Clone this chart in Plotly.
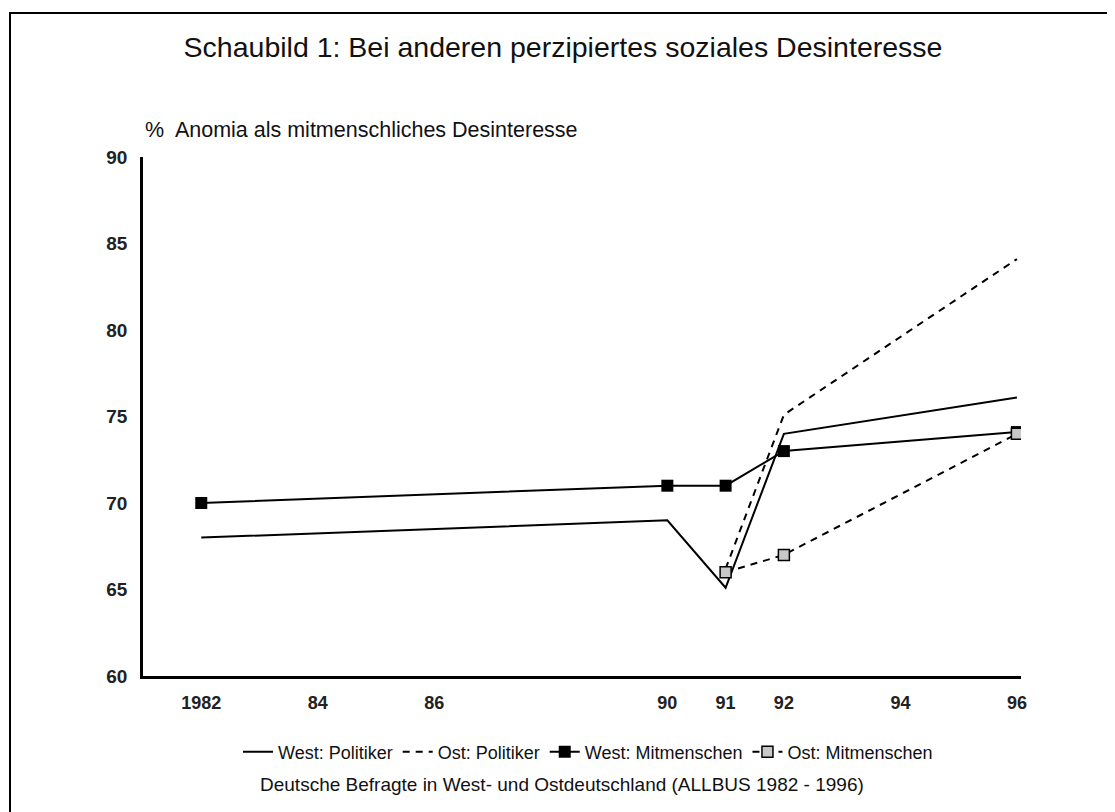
import plotly.graph_objects as go

years = [1982, 1990, 1991, 1992, 1996]
west_politiker = [68.0, 69.0, 65.1, 74.0, 76.1]
west_mitmenschen = [70.0, 71.0, 71.0, 73.0, 74.1]
ost_years = [1991, 1992, 1996]
ost_politiker = [66.2, 75.1, 84.1]
ost_mitmenschen = [66.0, 67.0, 74.0]

x_ticks = [1982, 1984, 1986, 1990, 1991, 1992, 1994, 1996]
x_labels = ["1982", "84", "86", "90", "91", "92", "94", "96"]
y_ticks = [60, 65, 70, 75, 80, 85, 90]

FONT = "Liberation Sans, Arial, sans-serif"
W, H = 1115, 812
OFF = 8  # page offset of the figure
# plot area in page pixels
PL, PR, PT, PB = 143, 1021, 157, 676
pw, ph = PR - PL, PB - PT


def px_x(page_x):
    return (page_x - PL) / pw


def px_y(page_y):
    return (PB - page_y) / ph


fig = go.Figure()
fig.add_trace(go.Scatter(x=years, y=west_politiker, mode="lines", name="West: Politiker",
                         line=dict(color="black", width=2)))
fig.add_trace(go.Scatter(x=ost_years, y=ost_politiker, mode="lines", name="Ost: Politiker",
                         line=dict(color="black", width=2, dash="7px,6px")))
fig.add_trace(go.Scatter(x=years, y=west_mitmenschen, mode="lines+markers", name="West: Mitmenschen",
                         line=dict(color="black", width=2),
                         marker=dict(symbol="square", size=12, color="black")))
fig.add_trace(go.Scatter(x=ost_years, y=ost_mitmenschen, mode="lines+markers", name="Ost: Mitmenschen",
                         line=dict(color="black", width=2, dash="7px,6px"),
                         marker=dict(symbol="square", size=11, color="#c8c8c8",
                                     line=dict(color="black", width=1.5))))

fig.update_layout(
    width=W, height=H,
    margin=dict(l=PL - OFF, r=W - (PR - OFF), t=PT - OFF, b=H - (PB - OFF)),
    paper_bgcolor="white", plot_bgcolor="white",
    font=dict(family=FONT, color="#111", size=16),
    title=dict(text="Schaubild 1: Bei anderen perzipiertes soziales Desinteresse",
               x=(563 - OFF) / W, xref="container", xanchor="center",
               y=1 - (47 - OFF) / H, yref="container", yanchor="middle",
               font=dict(size=28.5, family=FONT, color="#111")),
    showlegend=True,
    legend=dict(orientation="h", x=(588 - OFF) / W, xref="container", xanchor="center",
                y=1 - (752 - OFF) / H, yref="container", yanchor="middle",
                font=dict(size=18, family=FONT), itemwidth=30, tracegroupgap=0,
                bgcolor="rgba(0,0,0,0)"),
    xaxis=dict(range=[1981, 1996.07], tickvals=x_ticks, ticktext=x_labels,
               showgrid=False, zeroline=False, showline=True, linecolor="black", linewidth=2.5,
               ticks="", ticklabelstandoff=9,
               tickfont=dict(size=18, weight="bold", color="#222")),
    yaxis=dict(range=[60, 90], tickvals=y_ticks, showgrid=False, zeroline=False,
               showline=True, linecolor="black", linewidth=2.5, ticks="",
               ticklabelstandoff=9,
               tickfont=dict(size=19, weight="bold", color="#222")),
    annotations=[
        dict(text="%  Anomia als mitmenschliches Desinteresse", xref="paper", yref="paper",
             x=0.0, y=px_y(130), xanchor="left", yanchor="middle", showarrow=False,
             font=dict(size=21.5, family=FONT)),
        dict(text="Deutsche Befragte in West- und Ostdeutschland (ALLBUS 1982 - 1996)",
             xref="paper", yref="paper", x=px_x(562), y=px_y(784),
             xanchor="center", yanchor="middle", showarrow=False,
             font=dict(size=19, family=FONT)),
    ],
    shapes=[
        dict(type="rect", xref="paper", yref="paper",
             x0=px_x(10), x1=1.3, y0=-0.5, y1=px_y(13),
             line=dict(color="black", width=2), layer="below"),
    ],
)

fig.write_html("out.html")
